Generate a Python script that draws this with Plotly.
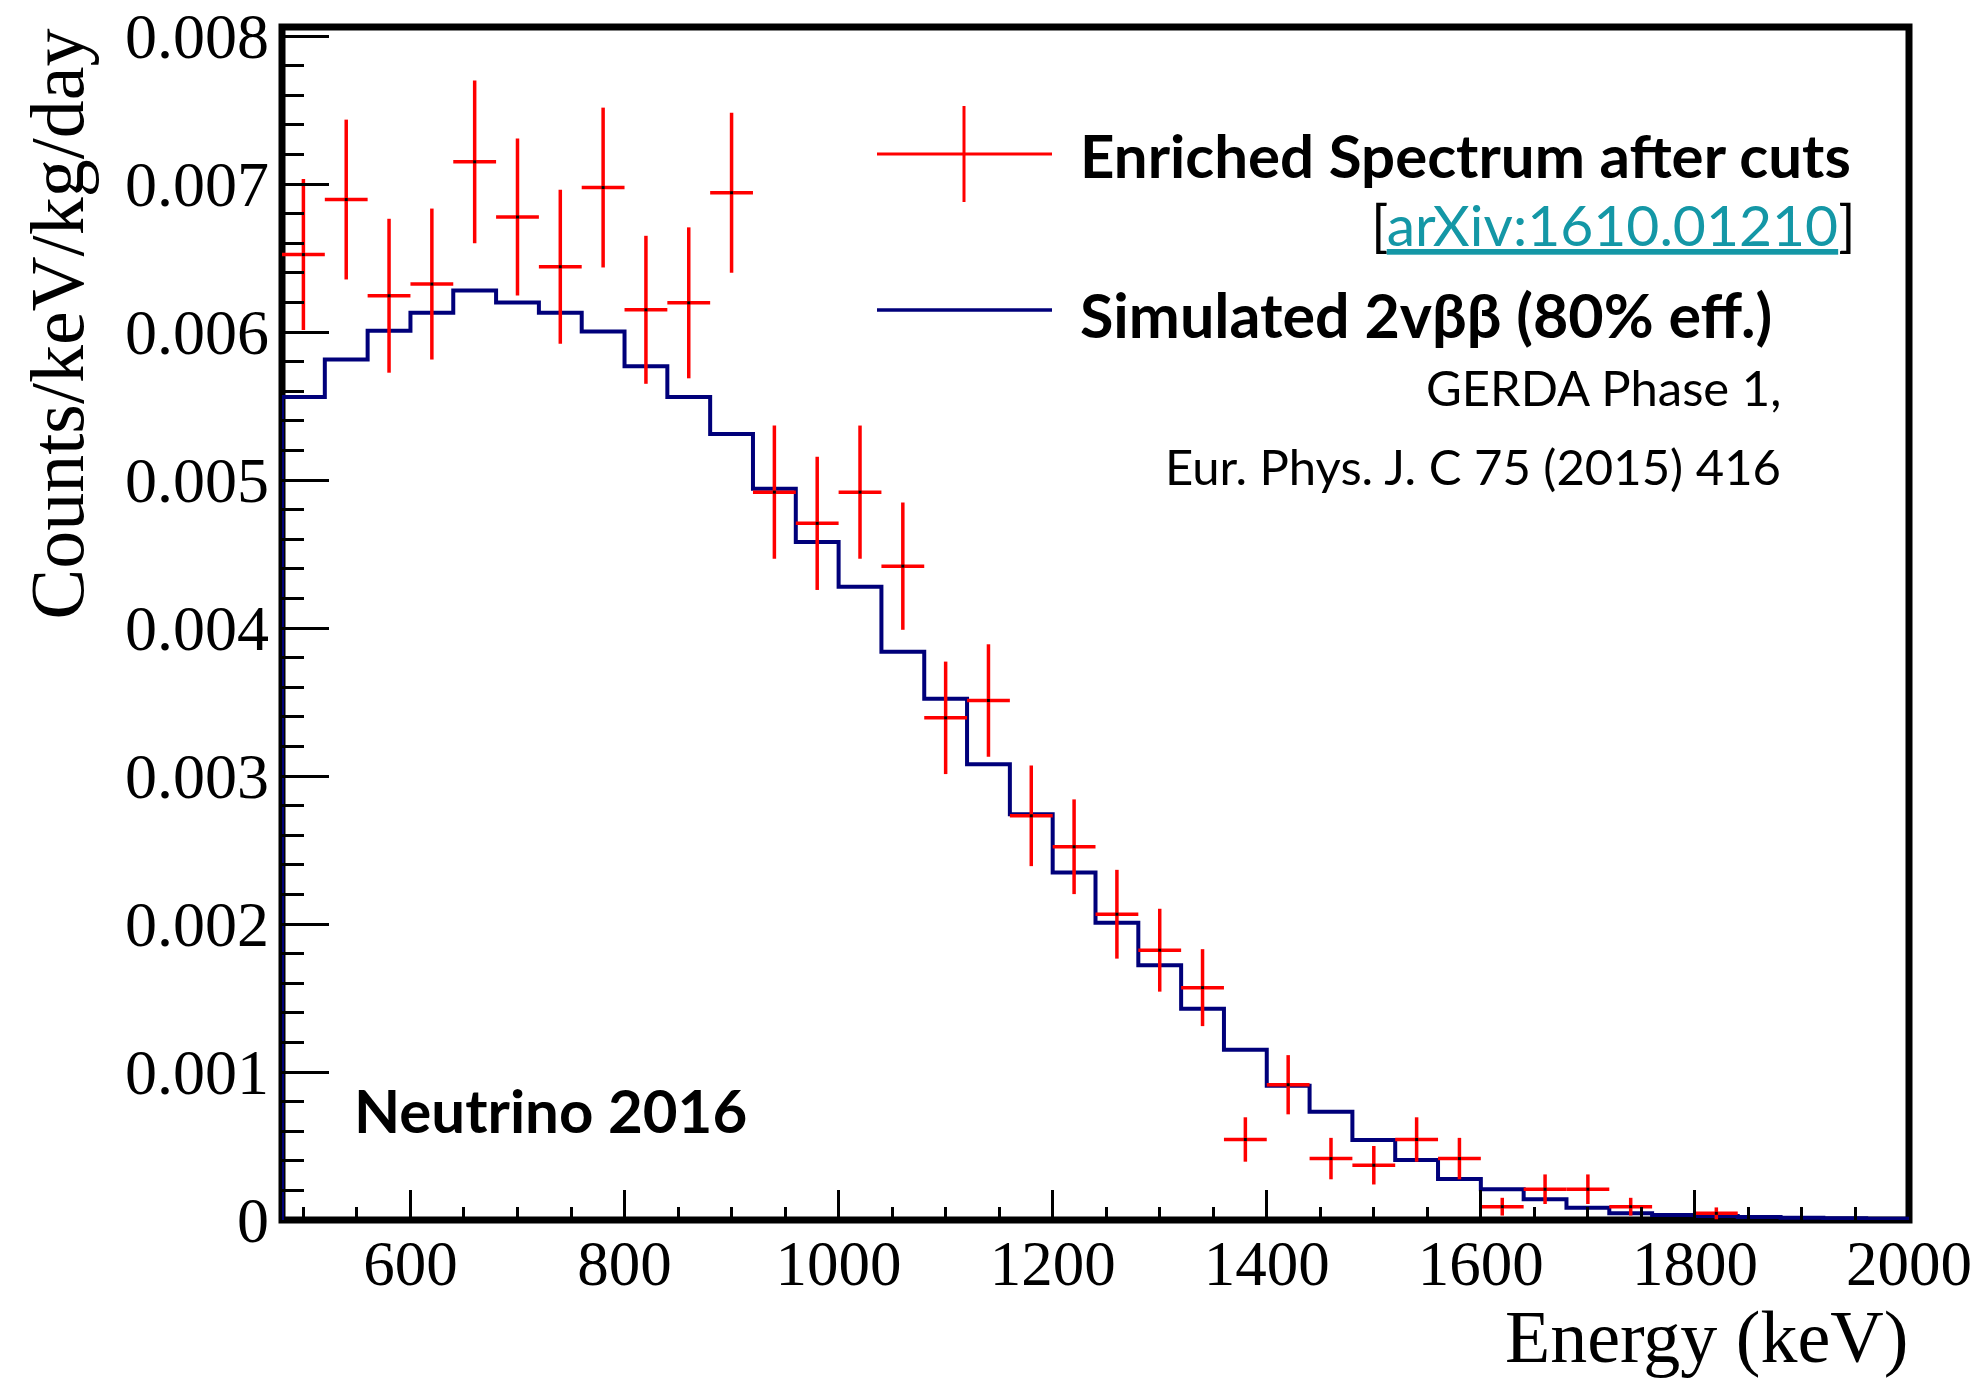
import plotly.graph_objects as go

# ---------------- data ----------------
# simulated 2vbb histogram: 40 keV bins starting at 480 keV
sim_bin_low = list(range(480, 2000, 40))
sim_values = [0.00556, 0.005814, 0.006008, 0.00613, 0.006281, 0.0062, 0.00613, 0.006003,
              0.005769, 0.00556, 0.005311, 0.004941, 0.004581, 0.004279, 0.00384, 0.003522,
              0.003079, 0.002742, 0.002348, 0.002008, 0.001721, 0.001428, 0.001151, 0.000907,
              0.000731, 0.000541, 0.000406, 0.000277, 0.000208, 0.00014, 0.000083, 0.000045,
              0.000034, 0.000027, 0.00002, 0.000015, 0.000011, 0.000008]

# enriched spectrum after cuts (bin centres, values, errors)
data_energy = [500, 540, 580, 620, 660, 700, 740, 780, 820, 860, 900, 940, 980, 1020, 1060,
               1100, 1140, 1180, 1220, 1260, 1300, 1340, 1380, 1420, 1460, 1500, 1540, 1580,
               1620, 1660, 1700, 1740, 1820]
data_values = [0.006523, 0.006895, 0.006245, 0.006324, 0.00715, 0.006777, 0.006441, 0.006976,
               0.00615, 0.006197, 0.006941, 0.004918, 0.004707, 0.004918, 0.004418,
               0.003393, 0.00351, 0.002731, 0.002522, 0.002066, 0.001823, 0.00157, 0.000544,
               0.000914, 0.000415, 0.00037, 0.000544, 0.000415,
               0.00009, 0.000208, 0.000208, 0.00009, 0.000045]
data_errors = [0.00051, 0.00054, 0.00052, 0.00051, 0.00055, 0.00053, 0.00052, 0.00054,
               0.0005, 0.00051, 0.00054, 0.00045, 0.00045, 0.00045, 0.00043,
               0.00038, 0.00038, 0.00034, 0.00032, 0.0003, 0.00028, 0.00026, 0.00015,
               0.0002, 0.00014, 0.00013, 0.00015, 0.00014,
               0.00006, 0.0001, 0.0001, 0.00006, 0.00004]
bin_half_width = 20

x_tickvals = [600, 800, 1000, 1200, 1400, 1600, 1800, 2000]
x_ticktext = ["600", "800", "1000", "1200", "1400", "1600", "1800", "2000"]
y_tickvals = [0, 0.001, 0.002, 0.003, 0.004, 0.005, 0.006, 0.007, 0.008]
y_ticktext = ["0", "0.001", "0.002", "0.003", "0.004", "0.005", "0.006", "0.007", "0.008"]

# ---------------- layout geometry (pixels) ----------------
W, H = 1980, 1381
L, R, T, B = 282, 1909, 27, 1220
Y_TOP = 0.008 * (B - T) / (B - 36)


def px(x):
    return (x - L) / (R - L)


def py(y):
    return (B - y) / (B - T)


RED = "#ff0000"
NAVY = "#00007a"
TEAL = "#1497a6"
SANS = "Lato"
SERIF = "Liberation Serif"

hist_x = [sim_bin_low[0]] + sim_bin_low + [sim_bin_low[-1] + 40]
hist_y = [0] + sim_values + [sim_values[-1]]

fig = go.Figure()
fig.add_trace(go.Scatter(
    x=hist_x, y=hist_y, mode="lines", line=dict(color=NAVY, width=4, shape="hv"),
    showlegend=False, hoverinfo="skip"))
fig.add_trace(go.Scatter(
    x=data_energy, y=data_values, mode="markers",
    marker=dict(color="black", size=3, symbol="square"),
    error_y=dict(type="data", array=data_errors, color=RED, thickness=3.5, width=0),
    error_x=dict(type="constant", value=bin_half_width, color=RED, thickness=3.5, width=0),
    showlegend=False))

shapes = [
    # frame
    dict(type="rect", xref="paper", yref="paper", x0=0, x1=1, y0=0, y1=1,
         line=dict(color="black", width=7), layer="below"),
    # legend symbols
    dict(type="line", xref="paper", yref="paper", x0=px(877), x1=px(1052), y0=py(154), y1=py(154),
         line=dict(color=RED, width=3)),
    dict(type="line", xref="paper", yref="paper", x0=px(964), x1=px(964), y0=py(106), y1=py(202),
         line=dict(color=RED, width=3)),
    dict(type="line", xref="paper", yref="paper", x0=px(877), x1=px(1052), y0=py(310), y1=py(310),
         line=dict(color=NAVY, width=3.5)),
]

annotations = [
    dict(text="<b>Enriched Spectrum after cuts</b>", x=px(1078), y=py(155), xanchor="left",
         yanchor="middle", font=dict(family=SANS, size=60, color="black")),
    dict(text='[<span style="color:%s"><u>arXiv:1610.01210</u></span>]' % TEAL,
         x=px(1858), y=py(224), xanchor="right", yanchor="middle",
         font=dict(family=SANS, size=57, color="black")),
    dict(text="<b>Simulated 2vββ (80% eff.)</b>", x=px(1078), y=py(314), xanchor="left",
         yanchor="middle", font=dict(family=SANS, size=61, color="black")),
    dict(text="GERDA Phase 1,", x=px(1783), y=py(387), xanchor="right", yanchor="middle",
         font=dict(family=SANS, size=49, color="black")),
    dict(text="Eur. Phys. J. C 75 (2015) 416", x=px(1783), y=py(466), xanchor="right",
         yanchor="middle", font=dict(family=SANS, size=49, color="black")),
    dict(text="<b>Neutrino 2016</b>", x=px(352), y=py(1110), xanchor="left", yanchor="middle",
         font=dict(family=SANS, size=60, color="black")),
    dict(text="Energy (keV)", x=px(1910), y=py(1337), xanchor="right", yanchor="middle",
         font=dict(family=SERIF, size=74, color="black")),
    dict(text="Counts/keV/kg/day", textangle=-90, x=px(57), y=py(26), xanchor="center",
         yanchor="top", font=dict(family=SERIF, size=76, color="black")),
]
for a in annotations:
    a.update(xref="paper", yref="paper", showarrow=False)

fig.update_layout(
    width=W, height=H,
    margin=dict(l=L, r=W - R, t=T, b=H - B, pad=0),
    paper_bgcolor="white", plot_bgcolor="white",
    showlegend=False,
    shapes=shapes, annotations=annotations,
    xaxis=dict(range=[480, 2000], showgrid=False, zeroline=False, showline=False,
               tickvals=x_tickvals, ticktext=x_ticktext,
               ticks="inside", ticklen=30, tickwidth=3, tickcolor="black",
               minor=dict(tick0=500, dtick=50, ticks="inside", ticklen=13, tickwidth=3,
                          tickcolor="black", showgrid=False),
               tickfont=dict(family=SERIF, size=63, color="black"),
               ticklabelstandoff=1, automargin=False),
    yaxis=dict(range=[0, Y_TOP], showgrid=False, zeroline=False, showline=False,
               tickvals=y_tickvals, ticktext=y_ticktext,
               ticks="inside", ticklen=47, tickwidth=3, tickcolor="black",
               minor=dict(tick0=0, dtick=0.0002, ticks="inside", ticklen=22, tickwidth=3,
                          tickcolor="black", showgrid=False),
               tickfont=dict(family=SERIF, size=64, color="black"),
               ticklabelstandoff=12, automargin=False),
)

fig.write_html("out.html")
